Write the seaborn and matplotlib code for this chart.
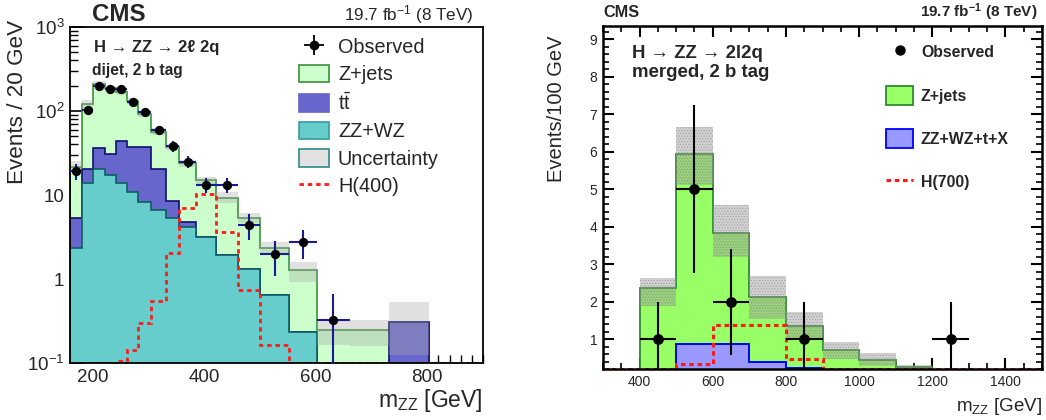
import numpy as np
import matplotlib
matplotlib.use("Agg")
import matplotlib.pyplot as plt
from matplotlib.patches import Patch
from matplotlib.lines import Line2D
from matplotlib.ticker import FixedLocator, FixedFormatter, MultipleLocator, LogLocator, NullFormatter
import seaborn as sns

# ---------------- left panel: dijet, 2 b tag (per 20 GeV) ----------------
edges_l = [160, 181, 202, 222, 242, 262, 282, 306, 332, 356, 386, 422, 461, 501, 552, 602, 661, 731, 803]
zz_l = [2.35, 14.0, 20.2, 17.3, 14.0, 10.8, 8.3, 6.6, 5.28, 4.2, 3.13, 1.93, 1.30, 0.645, 0.236, 0, 0, 0]
tt_l = [2.95, 6.2, 15.8, 13.2, 30.2, 26.8, 29.3, 13.6, 3.3, 0.6, 0, 0, 0, 0, 0, 0, 0, 0.31]
zjets_l = [16.4, 99.8, 174, 155.5, 123.8, 92.4, 53.4, 36.8, 28.4, 19.0, 11.9, 7.4, 3.98, 1.68, 1.04, 0.247, 0.247, 0]
unc_lo_l = [18.5, 106, 195, 172, 155, 120, 84, 52, 34, 21.8, 13.5, 8.0, 4.6, 1.93, 0.93, 0.164, 0.16, 0.124]
unc_hi_l = [25.6, 135, 230, 200, 182, 141, 98, 62, 40, 26, 16.6, 10.9, 6.05, 2.76, 1.59, 0.325, 0.325, 0.53]
sig_edges_l = [160, 181, 202, 222, 242, 262, 282, 306, 332, 356, 386, 422, 461, 501, 552, 602, 661, 731, 803, 900]
sig400 = [0, 0, 0, 0, 0.106, 0.143, 0.297, 0.547, 2.06, 6.95, 10.3, 3.6, 0.74, 0.164, 0, 0, 0, 0, 0]
obs_l = [19.3, 103, 199, 181, 181, 128, 96.5, 58.9, 38.6, 24.9, 13.3, 13.3, 4.43, 1.97, 2.76, 0.327]
obs_err_l = [4.3, 9.9, 14.1, 13.5, 13.5, 11.3, 9.0, 6.7, 5.7, 4.1, 2.7, 2.6, 1.49, 0.88, 1.05, 0.33]
yticks_l = [0.1, 1, 10, 100, 1000]
yticklabels_l = [r"$10^{-1}$", "1", "10", r"$10^{2}$", r"$10^{3}$"]
xticks_l = [200, 400, 600, 800]

# ---------------- right panel: merged, 2 b tag (per 100 GeV) ----------------
edges_r = [300, 400, 500, 600, 700, 800, 900, 1000, 1100, 1200, 1300, 1400, 1500]
other_r = [0, 0, 0.88, 0.88, 0.40, 0.24, 0, 0, 0, 0, 0, 0]
zjets_r = [0, 2.36, 5.06, 2.94, 1.72, 1.11, 0.71, 0.46, 0.25, 0, 0, 0]
unc_lo_r = [0, 1.90, 5.11, 3.20, 1.54, 1.00, 0.48, 0.28, 0.20, 0, 0, 0]
unc_hi_r = [0, 2.63, 6.65, 4.58, 2.69, 1.72, 0.94, 0.63, 0.31, 0, 0, 0]
sig700 = [0, 0, 0.35, 1.39, 1.39, 0.48, 0, 0, 0, 0, 0, 0]
obs_x_r = [450, 550, 650, 850, 1250]
obs_r = [1, 5, 2, 1, 1]
obs_err_r = [1.0, 2.24, 1.41, 1.0, 1.0]

sns.set_theme(style="ticks")
plt.rcParams["font.family"] = ["Liberation Sans", "DejaVu Sans"]
plt.rcParams["mathtext.fontset"] = "custom"
plt.rcParams["mathtext.rm"] = "Liberation Sans"
plt.rcParams["mathtext.it"] = "Liberation Sans:italic"
plt.rcParams["mathtext.bf"] = "Liberation Sans:bold"
plt.rcParams["axes.unicode_minus"] = False

fig = plt.figure(figsize=(10.46, 4.2), dpi=100)
fig.patch.set_facecolor("white")

# ======================= LEFT =======================
axL = fig.add_axes([70 / 1046, 1 - 363 / 420, 413 / 1046, 336 / 420])
eL = np.array(edges_l, dtype=float)
zz = np.array(zz_l)
tt = np.array(tt_l)
zj = np.array(zjets_l)
lvl_zz = zz
lvl_tt = zz + tt
lvl_all = zz + tt + zj
base = 1e-4

axL.stairs(lvl_all, eL, baseline=base, fill=True, color="#ccffcc", lw=0)
axL.stairs(lvl_all, eL, baseline=base, color="#3d8f3d", lw=1.2)
axL.stairs(lvl_tt, eL, baseline=base, fill=True, color="#6666cc", lw=0)
axL.stairs(lvl_tt, eL, baseline=base, color="#10106a", lw=1.2)
axL.stairs(lvl_zz, eL, baseline=base, fill=True, color="#66cccc", lw=0)
axL.stairs(lvl_zz, eL, baseline=base, color="#0d5f5f", lw=1.2)
axL.stairs(np.array(unc_hi_l), eL, baseline=np.array(unc_lo_l), fill=True,
           color="#a8a8a8", alpha=0.35, lw=0)

ylo_l = 0.1
axL.stairs(np.clip(np.array(sig400), ylo_l, None), np.array(sig_edges_l, float), baseline=None,
           color="#ff1a1a", lw=2.0, ls=(0, (1.6, 1.4)))

cL = 0.5 * (eL[:-1] + eL[1:])[:len(obs_l)]
hwL = 0.5 * np.diff(eL)[:len(obs_l)]
oL = np.array(obs_l)
eLerr = np.array(obs_err_l)
lowerL = np.minimum(eLerr, oL - 1e-3)
axL.errorbar(cL, oL, xerr=hwL, yerr=[lowerL, eLerr], fmt="none", ecolor="#1a1a99", elinewidth=1.5, capsize=0, zorder=4)
sns.scatterplot(x=cL, y=oL, ax=axL, color="black", s=45, edgecolor="black", linewidth=0, zorder=5, legend=False)

axL.set_yscale("log")
axL.set_xlim(160, 900)
axL.set_ylim(ylo_l, 1000)
axL.yaxis.set_major_locator(FixedLocator(yticks_l))
axL.yaxis.set_major_formatter(FixedFormatter(yticklabels_l))
axL.yaxis.set_minor_locator(LogLocator(base=10, subs=np.arange(2, 10)))
axL.yaxis.set_minor_formatter(NullFormatter())
axL.xaxis.set_major_locator(FixedLocator(xticks_l))
axL.xaxis.set_minor_locator(MultipleLocator(20))
axL.tick_params(axis="both", which="major", direction="in", length=10, width=1.2, labelsize=13.5,
                top=False, right=False, color="black", pad=4)
axL.tick_params(axis="both", which="minor", direction="in", length=5.5, width=1.0, top=False, right=False, color="black")
for s in axL.spines.values():
    s.set_linewidth(1.3)
    s.set_color("black")
axL.set_xlabel(r"m$_{\mathrm{ZZ}}$ [GeV]", fontsize=16.5, loc="right", labelpad=1)
axL.set_ylabel("Events / 20 GeV", fontsize=16.2, loc="top")
axL.yaxis.set_label_coords(-0.102, 1.021)

axL.text(0.053, 1.036, "CMS", transform=axL.transAxes, fontsize=17.4, fontweight="bold", va="center", ha="left")
axL.text(0.976, 1.036, r"19.7 fb$^{-1}$ (8 TeV)", transform=axL.transAxes, fontsize=12.3, va="center", ha="right")
axL.text(0.058, 0.939, "H \u2192 ZZ \u2192 2\u2113 2q", transform=axL.transAxes, fontsize=12.0, fontweight="bold", va="center", ha="left")
axL.text(0.054, 0.870, "dijet, 2 b tag", transform=axL.transAxes, fontsize=11.2, fontweight="bold", va="center", ha="left")

obs_handle = axL.errorbar([], [], xerr=[], yerr=[], fmt="o", color="black", ms=6, elinewidth=1.3, capsize=0)
hL = [obs_handle,
      Patch(facecolor="#ccffcc", edgecolor="#3d8f3d", lw=1.2),
      Patch(facecolor="#6666cc", edgecolor="#6666cc", lw=1.2),
      Patch(facecolor="#66cccc", edgecolor="#3a9a9a", lw=1.2),
      Patch(facecolor="#e2e2e2", edgecolor="#2a8a8a", lw=1.2),
      Line2D([], [], color="#ff1a1a", lw=2.0, ls=(0, (1.6, 1.4)))]
lL = ["Observed", "Z+jets", r"$\mathrm{t\bar{t}}$", "ZZ+WZ", "Uncertainty", "H(400)"]
axL.legend(hL, lL, loc="upper left", bbox_to_anchor=(0.555, 0.970), frameon=False, fontsize=14.3,
           handlelength=1.5, handleheight=1.0, labelspacing=0.39, handletextpad=0.45, borderpad=0, borderaxespad=0)

# ======================= RIGHT =======================
axR = fig.add_axes([603 / 1046, 1 - 369.3 / 420, 439 / 1046, 343.3 / 420])
eR = np.array(edges_r, dtype=float)
oth = np.array(other_r)
zjr = np.array(zjets_r)
totR = oth + zjr
ylo_r = 0.2

axR.stairs(totR, eR, baseline=0, fill=True, color="#99ff66", lw=0)
axR.stairs(totR, eR, baseline=0, color="#2f8a2f", lw=1.3)
axR.stairs(oth, eR, baseline=0, fill=True, color="#9999ff", lw=0)
axR.stairs(oth, eR, baseline=0, color="#0000ff", lw=1.4)
plt.rcParams["hatch.linewidth"] = 0.6
axR.stairs(np.array(unc_hi_r), eR, baseline=np.array(unc_lo_r), fill=True,
           facecolor="#9a9a9a", edgecolor="#777777", hatch="......", alpha=0.45, lw=0)
axR.stairs(np.clip(np.array(sig700), ylo_r, None), eR, baseline=None,
           color="#ff1a1a", lw=2.2, ls=(0, (1.5, 1.2)))

xR = np.array(obs_x_r, float)
oR = np.array(obs_r, float)
axR.errorbar(xR, oR, xerr=50, yerr=np.array(obs_err_r), fmt="none", ecolor="black", elinewidth=1.5, capsize=0, zorder=4)
sns.scatterplot(x=xR, y=oR, ax=axR, color="black", s=60, edgecolor="black", linewidth=0, zorder=5, legend=False)

axR.set_xlim(300, 1500)
axR.set_ylim(ylo_r, 9.35)
axR.xaxis.set_major_locator(MultipleLocator(200))
axR.xaxis.set_minor_locator(MultipleLocator(50))
axR.yaxis.set_major_locator(FixedLocator([1, 2, 3, 4, 5, 6, 7, 8, 9]))
axR.yaxis.set_minor_locator(MultipleLocator(0.2))
axR.tick_params(axis="both", which="major", direction="in", length=8, width=1.5, labelsize=10,
                top=True, right=True, color="black", pad=4)
axR.tick_params(axis="both", which="minor", direction="in", length=4.5, width=1.2, top=True, right=True, color="black")
for s in axR.spines.values():
    s.set_linewidth(1.8)
    s.set_color("black")
axR.set_xlabel(r"m$_{\mathrm{ZZ}}$ [GeV]", fontsize=13.5, loc="right", labelpad=5)
axR.set_ylabel("Events/100 GeV", fontsize=14.5, loc="top")
axR.yaxis.set_label_coords(-0.085, 0.971)

axR.text(0.0, 1.039, "CMS", transform=axR.transAxes, fontsize=11.7, fontweight="bold", va="center", ha="left")
axR.text(0.99, 1.039, r"19.7 fb$^{\mathbf{-1}}$ (8 TeV)", transform=axR.transAxes, fontsize=11.0,
         fontweight="bold", va="center", ha="right")
axR.text(0.065, 0.920, "H \u2192 ZZ \u2192 2l2q", transform=axR.transAxes, fontsize=13.4, fontweight="bold", va="center", ha="left")
axR.text(0.065, 0.865, "merged, 2 b tag", transform=axR.transAxes, fontsize=13.4, fontweight="bold", va="center", ha="left")

hR = [Line2D([], [], marker="o", color="black", ls="none", ms=6.5),
      Patch(facecolor="#99ff66", edgecolor="#2f8a2f", lw=1.3),
      Patch(facecolor="#9999ff", edgecolor="#0000ff", lw=1.3),
      Line2D([], [], color="#ff1a1a", lw=2.2, ls=(0, (1.5, 1.2)))]
lR = ["Observed", "Z+jets", "ZZ+WZ+t+X", "H(700)"]
axR.legend(hR, lR, loc="upper left", bbox_to_anchor=(0.645, 0.951), frameon=False,
           prop={"weight": "bold", "size": 11.4}, handlelength=1.7, handleheight=1.45,
           labelspacing=1.54, handletextpad=0.5, borderpad=0, borderaxespad=0)

fig.savefig("out.png", dpi=100, facecolor="white")
